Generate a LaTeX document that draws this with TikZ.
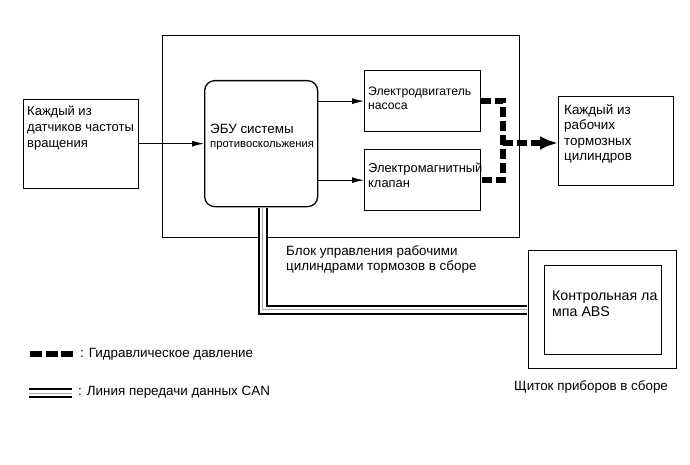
\documentclass[tikz,border=0pt]{standalone}
\usepackage{fontspec}
\setmainfont{Liberation Sans}
\usetikzlibrary{arrows.meta}

\tikzset{
  blk/.style={draw,line width=1.3pt,inner sep=0pt,anchor=north west},
  txt/.style={inner sep=0pt,anchor=north west,align=left,font=\fontsize{13.4}{15.5}\selectfont},
  sig/.style={line width=1pt,-{Latex[length=12pt,width=6pt]}},
  hyd/.style={line width=6pt,dash pattern=on 10pt off 4pt},
  canout/.style={line width=10pt},
  canin/.style={line width=6pt,white},
  canmid/.style={line width=1pt,gray!70},
}

\begin{document}
\begin{tikzpicture}[x=1pt,y=-1pt,line join=miter]
  \useasboundingbox (0,0) rectangle (690,465);
  % boxes
  \node[blk,minimum width=115pt,minimum height=89pt] (sensor) at (23,99) {};
  \node[blk,minimum width=357pt,minimum height=202pt] (abs) at (162,35) {};
  \node[blk,rounded corners=10pt,minimum width=113pt,minimum height=126pt] (ecu) at (204,80) {};
  \node[blk,minimum width=116pt,minimum height=61pt] (pump) at (364,70) {};
  \node[blk,minimum width=116pt,minimum height=61pt] (valve) at (364,149) {};
  \node[blk,minimum width=115pt,minimum height=89pt] (cyl) at (558,96) {};
  \node[blk,minimum width=148pt,minimum height=118pt] (cluster) at (528,250) {};
  \node[blk,minimum width=117pt,minimum height=89pt] (lamp) at (544,265) {};
  % texts
  \node[txt,font=\fontsize{13}{16.3}\selectfont] (sensortxt) at ([shift={(4,6.5)}]sensor.north west) {Каждый из\\датчиков частоты\\вращения};
  \node[txt,font=\fontsize{13.4}{14}\selectfont] (ecutxt) at ([shift={(6,43.5)}]ecu.north west) {ЭБУ системы\\{\fontsize{11.3}{14}\selectfont противоскольжения}};
  \node[txt,font=\fontsize{12.2}{14.5}\selectfont] (pumptxt) at ([shift={(4,16.5)}]pump.north west) {Электродвигатель\\насоса};
  \node[txt,font=\fontsize{12.9}{15}\selectfont] (valvetxt) at ([shift={(4,13.5)}]valve.north west) {Электромагнитный\\клапан};
  \node[txt,font=\fontsize{13.4}{15.3}\selectfont] (cyltxt) at ([shift={(6,8.5)}]cyl.north west) {Каждый из\\рабочих\\тормозных\\цилиндров};
  \node[txt,font=\fontsize{13.4}{15}\selectfont] (abstxt) at ([shift={(124,7.5)}]abs.south west) {Блок управления рабочими\\цилиндрами тормозов в сборе};
  \node[txt,font=\fontsize{14.2}{16}\selectfont] (lamptxt) at ([shift={(8,26)}]lamp.north west) {Контрольная ла\\мпа ABS};
  \node[txt] (clustertxt) at ([shift={(-14,11.5)}]cluster.south west) {Щиток приборов в сборе};
  % signal lines
  \draw[sig] (sensor.east |- ecu.west) -- (ecu.west);
  \draw[sig] (ecu.east |- pump.west) -- (pump.west);
  \draw[sig] (ecu.east |- valve.west) -- (valve.west);
  % hydraulic pressure
  \coordinate (hydj) at (503,143);
  \draw[hyd] (pump.east) -| (hydj) |- (valve.east);
  \draw[hyd,-{Latex[length=18pt,width=14pt]}] (hydj) -- (hydj -| cyl.west);
  % CAN
  \coordinate (cans) at ([yshift=-0.7pt,xshift=1.5pt]ecu.south);
  \coordinate (cane) at ([xshift=-0.7pt]cluster.west);
  \draw[canout] (cans) |- (cane);
  \draw[canin] (cans) |- (cane);
  \draw[canmid] (cans) |- (cane);
  % legend
  \coordinate (lg1a) at (30,354);
  \coordinate (lg1b) at (73,354);
  \coordinate (lg2a) at (29,393);
  \coordinate (lg2b) at (72,393);
  \draw[hyd,dash pattern=on 12pt off 3.5pt] (lg1a) -- (lg1b);
  \draw[canout] (lg2a) -- (lg2b);
  \draw[canin] (lg2a) -- (lg2b);
  \draw[canmid] (lg2a) -- (lg2b);
  \node[txt] (lg1txt) at (80,348.5) {: Гидравлическое давление};
  \node[txt] (lg2txt) at (78,385.5) {: Линия передачи данных CAN};
\end{tikzpicture}
\end{document}
